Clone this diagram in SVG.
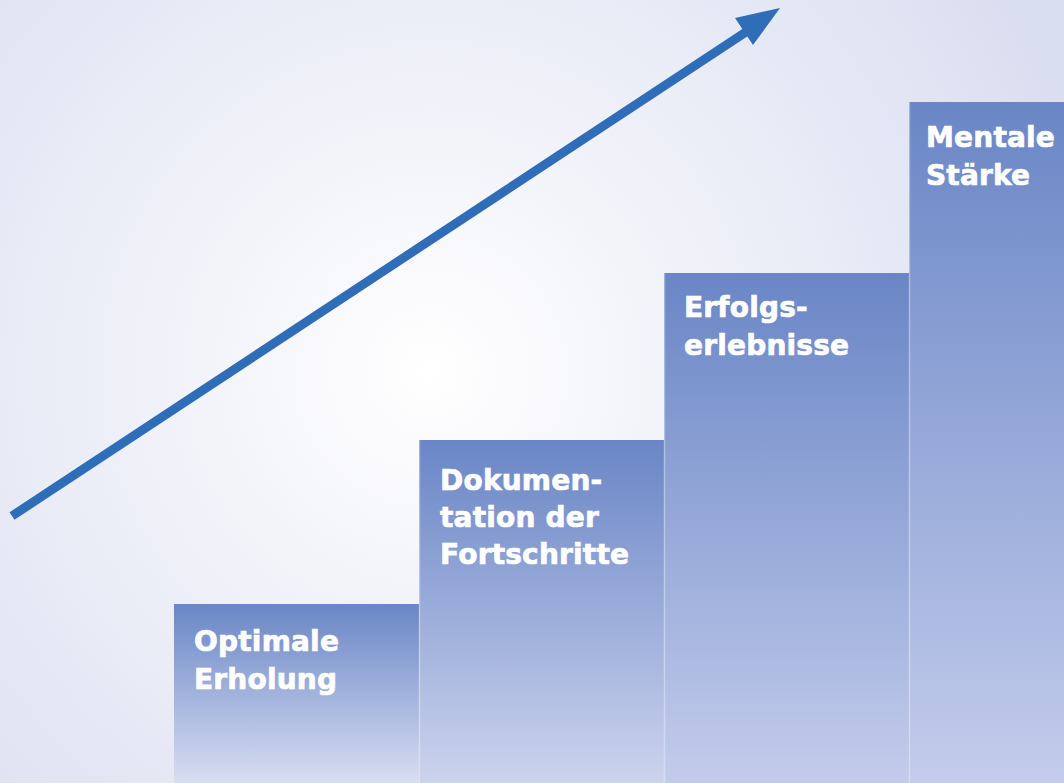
<svg xmlns="http://www.w3.org/2000/svg" width="1064" height="783" viewBox="0 0 1064 783">
  <defs>
    <radialGradient id="bg" cx="430" cy="370" r="760" gradientUnits="userSpaceOnUse">
      <stop offset="0" stop-color="#ffffff"/>
      <stop offset="0.35" stop-color="#f1f2f9"/>
      <stop offset="1" stop-color="#d6dbef"/>
    </radialGradient>
    <linearGradient id="barFill" x1="0" y1="0" x2="0" y2="1">
      <stop offset="0" stop-color="#6a86c6"/>
      <stop offset="1" stop-color="#d9def1"/>
    </linearGradient>
    <linearGradient id="barFillMid" x1="0" y1="0" x2="0" y2="1">
      <stop offset="0" stop-color="#6a86c6"/>
      <stop offset="1" stop-color="#ccd3ed"/>
    </linearGradient>
    <linearGradient id="barFillTall" x1="0" y1="0" x2="0" y2="1">
      <stop offset="0" stop-color="#6a86c6"/>
      <stop offset="1" stop-color="#c3cceb"/>
    </linearGradient>
    <style>
      .label { font-family: "DejaVu Sans", "Liberation Sans", sans-serif; font-weight: bold; font-size: 28px; letter-spacing: 0.2px; fill: #ffffff; stroke: #ffffff; stroke-width: 0.7px; }
      .sep { stroke: #ffffff; stroke-opacity: 0.35; stroke-width: 1.5; }
      .arrow { stroke: #2f6db8; stroke-width: 9; fill: none; }
    </style>
  </defs>

  <!-- backdrop -->
  <rect x="0" y="0" width="1064" height="783" fill="url(#bg)"/>

  <!-- step 1 -->
  <g id="step-erholung">
    <rect x="174" y="604" width="245" height="179" fill="url(#barFill)"/>
    <text class="label" x="194" y="651">Optimale</text>
    <text class="label" x="194" y="689">Erholung</text>
  </g>

  <!-- step 2 -->
  <g id="step-dokumentation">
    <rect x="419" y="440" width="245" height="343" fill="url(#barFillMid)"/>
    <line class="sep" x1="419.5" y1="440" x2="419.5" y2="783"/>
    <text class="label" x="440" y="490">Dokumen-</text>
    <text class="label" x="440" y="527">tation der</text>
    <text class="label" x="440" y="564">Fortschritte</text>
  </g>

  <!-- step 3 -->
  <g id="step-erfolge">
    <rect x="664" y="273" width="245" height="510" fill="url(#barFillTall)"/>
    <line class="sep" x1="664.5" y1="273" x2="664.5" y2="783"/>
    <text class="label" x="684" y="317">Erfolgs-</text>
    <text class="label" x="684" y="355">erlebnisse</text>
  </g>

  <!-- step 4 -->
  <g id="step-staerke">
    <rect x="909" y="102" width="155" height="681" fill="url(#barFillTall)"/>
    <line class="sep" x1="909.5" y1="102" x2="909.5" y2="783"/>
    <text class="label" x="926" y="147">Mentale</text>
    <text class="label" x="926" y="185">Stärke</text>
  </g>

  <!-- rising arrow -->
  <g id="connectors">
    <line class="arrow" x1="12" y1="516" x2="752" y2="28"/>
    <polygon points="780,8 753,45 735,18" fill="#2f6db8"/>
  </g>
</svg>
